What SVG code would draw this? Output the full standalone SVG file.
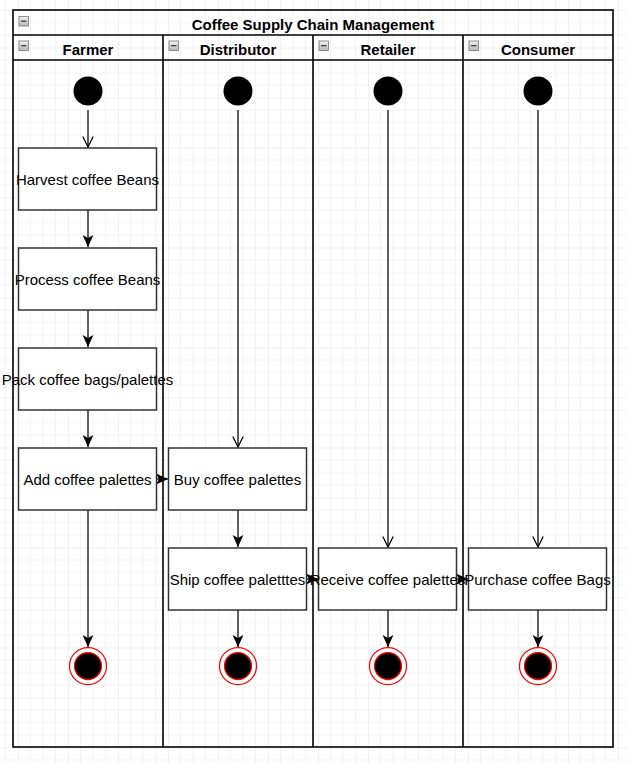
<svg xmlns="http://www.w3.org/2000/svg" width="628" height="764" viewBox="0 0 628 764">
<style>
.lbl{font-family:"Liberation Sans",Arial,sans-serif;font-size:15px;fill:#000;text-anchor:middle}
.hdr{font-family:"Liberation Sans",Arial,sans-serif;font-size:15px;font-weight:bold;fill:#000;text-anchor:middle}
.box{fill:#fff;stroke:#333;stroke-width:1.5}
.edge{fill:none;stroke:#000;stroke-width:1.25}
.filled{marker-end:url(#block)}
.open{marker-end:url(#vee)}
.start{fill:#000}
.endo{fill:#fff;stroke:#ff0000;stroke-width:1.25}
.endi{fill:#000;stroke:#ff0000;stroke-width:1.25}
.ico{fill:url(#ig);stroke:#777;stroke-width:0.8}
.icl{stroke:#333;stroke-width:1.2}
</style>
<defs>
<pattern id="grid" patternUnits="userSpaceOnUse" x="18" y="-2.5" width="50" height="50">
<path d="M12.5 0V50M25 0V50M37.5 0V50M0 12.5H50M0 25H50M0 37.5H50" stroke="#f3f3f3" stroke-width="1" fill="none"/>
<path d="M0 0V50M0 0H50" stroke="#e4e4e4" stroke-width="1" fill="none"/>
</pattern>
<linearGradient id="ig" x1="0" y1="0" x2="0" y2="1">
<stop offset="0" stop-color="#f2f2f2"/>
<stop offset="1" stop-color="#b8b8b8"/>
</linearGradient>
<marker id="block" markerUnits="userSpaceOnUse" markerWidth="12" markerHeight="12" viewBox="0 0 10 10" refX="10" refY="5" orient="auto">
<path d="M0,0.5 L10,5 L0,9.5 L2.5,5 Z" fill="#000"/>
</marker>
<marker id="vee" markerUnits="userSpaceOnUse" markerWidth="12" markerHeight="12" viewBox="0 0 12 12" refX="11" refY="6" orient="auto">
<path d="M0.5,0.8 L11,6 L0.5,11.2" fill="none" stroke="#000" stroke-width="1.25"/>
</marker>
</defs>
<rect width="628" height="764" fill="#fff"/>
<rect width="628" height="764" fill="url(#grid)"/>

<g id="pool">
<rect x="13" y="10" width="600" height="737" fill="none" stroke="#000" stroke-width="1.6"/>
<line x1="13" y1="35" x2="613" y2="35" stroke="#000" stroke-width="1.6"/>
<line x1="13" y1="60" x2="613" y2="60" stroke="#000" stroke-width="1.6"/>
<line x1="163" y1="35" x2="163" y2="747" stroke="#000" stroke-width="1.6"/>
<line x1="313" y1="35" x2="313" y2="747" stroke="#000" stroke-width="1.6"/>
<line x1="463" y1="35" x2="463" y2="747" stroke="#000" stroke-width="1.6"/>
<rect class="ico" x="19" y="16.5" width="9.5" height="9.5"/><line class="icl" x1="21" y1="21.2" x2="26.5" y2="21.2"/>
<text class="hdr" x="313" y="30">Coffee Supply Chain Management</text>
</g>
<g id="lane-farmer">
<rect class="ico" x="19" y="41" width="9.5" height="9.5"/><line class="icl" x1="21" y1="45.7" x2="26.5" y2="45.7"/>
<text class="hdr" x="88" y="55">Farmer</text>
</g>
<g id="lane-distributor">
<rect class="ico" x="169" y="41" width="9.5" height="9.5"/><line class="icl" x1="171" y1="45.7" x2="176.5" y2="45.7"/>
<text class="hdr" x="238" y="55">Distributor</text>
</g>
<g id="lane-retailer">
<rect class="ico" x="319" y="41" width="9.5" height="9.5"/><line class="icl" x1="321" y1="45.7" x2="326.5" y2="45.7"/>
<text class="hdr" x="388" y="55">Retailer</text>
</g>
<g id="lane-consumer">
<rect class="ico" x="469" y="41" width="9.5" height="9.5"/><line class="icl" x1="471" y1="45.7" x2="476.5" y2="45.7"/>
<text class="hdr" x="538" y="55">Consumer</text>
</g>

<g id="connectors">
<line class="edge open" x1="88" y1="110" x2="88" y2="147"/>
<line class="edge filled" x1="88" y1="210" x2="88" y2="247"/>
<line class="edge filled" x1="88" y1="310" x2="88" y2="347"/>
<line class="edge filled" x1="88" y1="410" x2="88" y2="447"/>
<line class="edge filled" x1="88" y1="510" x2="88" y2="647"/>
<line class="edge filled" x1="157" y1="479" x2="168" y2="479"/>
<line class="edge open" x1="238" y1="110" x2="238" y2="447"/>
<line class="edge filled" x1="238" y1="510" x2="238" y2="547"/>
<line class="edge filled" x1="238" y1="610" x2="238" y2="647"/>
<line class="edge filled" x1="307" y1="579" x2="318" y2="579"/>
<line class="edge open" x1="388" y1="110" x2="388" y2="547"/>
<line class="edge filled" x1="388" y1="610" x2="388" y2="647"/>
<line class="edge filled" x1="457" y1="579" x2="468" y2="579"/>
<line class="edge open" x1="538" y1="110" x2="538" y2="547"/>
<line class="edge filled" x1="538" y1="610" x2="538" y2="647"/>
</g>

<g id="start-farmer"><circle class="start" cx="88" cy="91" r="14.5"/></g>
<g id="start-distributor"><circle class="start" cx="238" cy="91" r="14.5"/></g>
<g id="start-retailer"><circle class="start" cx="388" cy="91" r="14.5"/></g>
<g id="start-consumer"><circle class="start" cx="538" cy="91" r="14.5"/></g>

<g id="harvest"><rect class="box" x="18.5" y="148" width="138" height="62"/><text class="lbl" x="87.5" y="185">Harvest coffee Beans</text></g>
<g id="process"><rect class="box" x="18.5" y="248" width="138" height="62"/><text class="lbl" x="87.5" y="285">Process coffee Beans</text></g>
<g id="pack"><rect class="box" x="18.5" y="348" width="138" height="62"/><text class="lbl" x="87.5" y="385">Pack coffee bags/palettes</text></g>
<g id="add"><rect class="box" x="18.5" y="448" width="138" height="62"/><text class="lbl" x="87.5" y="485">Add coffee palettes</text></g>
<g id="buy"><rect class="box" x="168.5" y="448" width="138" height="62"/><text class="lbl" x="237.5" y="485">Buy coffee palettes</text></g>
<g id="ship"><rect class="box" x="168.5" y="548" width="138" height="62"/><text class="lbl" x="237.5" y="585">Ship coffee paletttes</text></g>
<g id="receive"><rect class="box" x="318.5" y="548" width="138" height="62"/><text class="lbl" x="387.5" y="585">Receive coffee palettes</text></g>
<g id="purchase"><rect class="box" x="468.5" y="548" width="138" height="62"/><text class="lbl" x="537.5" y="585">Purchase coffee Bags</text></g>

<g id="end-farmer"><circle class="endo" cx="88" cy="666" r="18.5"/><circle class="endi" cx="88" cy="666" r="13.5"/></g>
<g id="end-distributor"><circle class="endo" cx="238" cy="666" r="18.5"/><circle class="endi" cx="238" cy="666" r="13.5"/></g>
<g id="end-retailer"><circle class="endo" cx="388" cy="666" r="18.5"/><circle class="endi" cx="388" cy="666" r="13.5"/></g>
<g id="end-consumer"><circle class="endo" cx="538" cy="666" r="18.5"/><circle class="endi" cx="538" cy="666" r="13.5"/></g>
</svg>
